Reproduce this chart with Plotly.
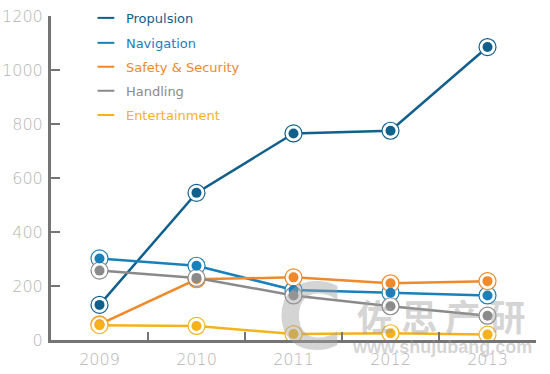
import plotly.graph_objects as go

years = ["2009", "2010", "2011", "2012", "2013"]
propulsion = [130, 545, 765, 775, 1085]
navigation = [302, 275, 185, 175, 165]
safety = [58, 225, 232, 210, 218]
handling = [257, 230, 165, 125, 90]
entertainment = [55, 52, 22, 25, 20]

series = [
    ("Propulsion", propulsion, "#11608c"),
    ("Navigation", navigation, "#1a80ba"),
    ("Safety & Security", safety, "#f0892a"),
    ("Handling", handling, "#8a8a8a"),
    ("Entertainment", entertainment, "#f6b21b"),
]

fig = go.Figure()

for name, vals, col in series:
    fig.add_trace(go.Scatter(x=years, y=vals, mode="lines",
                             line=dict(color=col, width=2.5),
                             showlegend=False, hoverinfo="skip"))
for name, vals, col in series:
    fig.add_trace(go.Scatter(x=years, y=vals, mode="markers",
                             marker=dict(size=17, color="white",
                                         line=dict(color=col, width=1.2)),
                             showlegend=False, hoverinfo="skip"))
for name, vals, col in series:
    fig.add_trace(go.Scatter(x=years, y=vals, mode="markers",
                             marker=dict(size=10, color=col, line=dict(width=0)),
                             name=name, showlegend=False))

leg_y = [0.994, 0.917, 0.843, 0.769, 0.694]
layout_legends = {}
for i, (name, vals, col) in enumerate(series):
    key = "legend" if i == 0 else f"legend{i+1}"
    fig.add_trace(go.Scatter(x=[None], y=[None], mode="markers", name=name,
                             marker=dict(symbol="line-ew", size=16,
                                         line=dict(color=col, width=3)),
                             legend=key, showlegend=True))
    layout_legends[key] = dict(x=0.072, y=leg_y[i], xanchor="left", yanchor="middle",
                               bgcolor="rgba(0,0,0,0)",
                               font=dict(family="DejaVu Sans, sans-serif", size=13, color=col),
                               itemsizing="constant")

axis_col = "#747474"
tick_font = dict(family="DejaVu Sans, sans-serif", size=16, color="#b4b4b4", weight=200)
wm = "rgba(160,160,160,0.45)"

fig.update_layout(
    width=550, height=374,
    margin=dict(l=51, r=14, t=16, b=34, autoexpand=False),
    paper_bgcolor="white", plot_bgcolor="white",
    xaxis=dict(type="category", tickson="boundaries", ticks="inside",
               ticklen=8, tickwidth=2, tickcolor=axis_col,
               showline=True, linecolor=axis_col, linewidth=3,
               showgrid=False, zeroline=False, tickfont=tick_font,
               range=[-0.5, 4.5], automargin=False, ticklabelstandoff=3),
    yaxis=dict(range=[0, 1200], tickvals=[0, 200, 400, 600, 800, 1000, 1200],
               ticks="inside", ticklen=9, tickwidth=2, tickcolor=axis_col,
               showline=True, linecolor=axis_col, linewidth=3,
               showgrid=False, zeroline=False, tickfont=tick_font,
               automargin=False, ticklabelstandoff=2),
    annotations=[
        dict(x=0.534, y=0.068, xref="paper", yref="paper", text="<b>C</b>",
             xanchor="center", yanchor="middle",
             showarrow=False, font=dict(family="DejaVu Sans", size=90, color=wm)),
        dict(x=0.806, y=0.077, xref="paper", yref="paper", text="<b>佐 思 产 研</b>",
             xanchor="center", yanchor="middle",
             showarrow=False, font=dict(family="Noto Sans CJK SC", size=36, color=wm)),
        dict(x=0.806, y=-0.022, xref="paper", yref="paper", text="<b>www.shujubang.com</b>",
             xanchor="center", yanchor="middle",
             showarrow=False, font=dict(family="Arial", size=18, color=wm)),
    ],
    **layout_legends,
)

fig.write_html("out.html", config={"displayModeBar": False},
               post_script="document.body.style.margin='0';document.body.style.overflow='hidden';")
